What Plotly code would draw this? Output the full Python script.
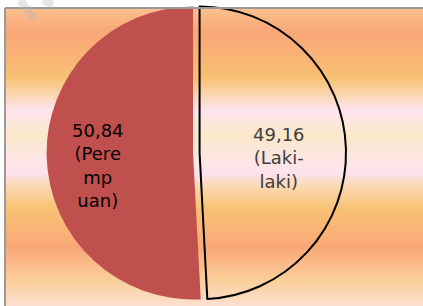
import plotly.graph_objects as go

# ---- data ----
labels = ["Laki-laki", "Perempuan"]
values = [49.16, 50.84]
label_text = ["(Laki-<br>laki)", "(Pere<br>mp<br>uan)"]

# background gradient stops (pixel row from top, colour)
bg_rows = [8, 30, 55, 78, 95, 110, 135, 155, 172, 188, 208, 247, 280, 306]
bg_colors = ["#fdc08e", "#f9a878", "#f9b276", "#f8c273", "#fbd6b4", "#fde4ef",
             "#fae8c9", "#fce6e0", "#fde3ef", "#fad6ac", "#f8c274", "#f9a878",
             "#fbcf9a", "#fde0d2"]

W, H = 423, 306
n = len(bg_rows)
colorscale = [[i / (n - 1), c] for i, c in enumerate(bg_colors)]

fig = go.Figure()

# background panel (gradient)
fig.add_trace(go.Heatmap(
    x=[0, 1], y=bg_rows, z=[[i, i] for i in range(n)],
    colorscale=colorscale, zmin=0, zmax=n - 1, zsmooth="best",
    showscale=False, hoverinfo="skip", xaxis="x", yaxis="y",
))

# pie
fig.add_trace(go.Pie(
    labels=labels, values=values, sort=False, direction="clockwise", rotation=0,
    pull=[0.045, 0],
    marker=dict(colors=["rgba(255,255,255,0)", "#c0504d"],
                line=dict(color=["#000000", "rgba(0,0,0,0)"], width=[2, 0])),
    textinfo="none", hoverinfo="label+value", showlegend=False,
    domain=dict(x=[40 / W, 346 / W], y=[0, 1]),
))

fmt = [f"{v:.2f}".replace(".", ",") for v in values]
fig.add_annotation(x=278.5 / W, y=1 - 158 / H, xref="paper", yref="paper",
                   text=fmt[0] + "<br>" + label_text[0], showarrow=False,
                   font=dict(family="DejaVu Sans", size=18, color="#404040"),
                   xanchor="center", yanchor="middle", align="center")
fig.add_annotation(x=98 / W, y=1 - 165 / H, xref="paper", yref="paper",
                   text=fmt[1] + "<br>" + label_text[1], showarrow=False,
                   font=dict(family="DejaVu Sans", size=18, color="#000000"),
                   xanchor="center", yanchor="middle", align="center")

shapes = [
    # panel border (top and left)
    dict(type="line", xref="paper", yref="paper", x0=5 / W, x1=1, y0=1 - 8 / H, y1=1 - 8 / H,
         line=dict(color="#9a9a9a", width=2)),
    dict(type="line", xref="paper", yref="paper", x0=5 / W, x1=5 / W, y0=0, y1=1 - 8 / H,
         line=dict(color="#9a9a9a", width=2)),
    # faint watermark strokes
    dict(type="line", xref="paper", yref="paper", x0=20 / W, y0=1, x1=35 / W, y1=1 - 20 / H,
         line=dict(color="rgba(180,180,180,0.35)", width=8), layer="above"),
    dict(type="line", xref="paper", yref="paper", x0=43 / W, y0=1, x1=53 / W, y1=1 - 5 / H,
         line=dict(color="rgba(180,180,180,0.35)", width=8), layer="above"),
]

fig.update_layout(
    width=W, height=H, margin=dict(l=0, r=0, t=0, b=0),
    paper_bgcolor="white", plot_bgcolor="rgba(0,0,0,0)",
    xaxis=dict(domain=[6 / W, 1], range=[0, 1], visible=False, fixedrange=True),
    yaxis=dict(domain=[0, 1 - 9 / H], range=[306, 9], visible=False, fixedrange=True),
    shapes=shapes, showlegend=False,
)

fig.write_html("out.html", config={"displayModeBar": False},
               post_script="document.body.style.margin='0';document.body.style.overflow='hidden';")
